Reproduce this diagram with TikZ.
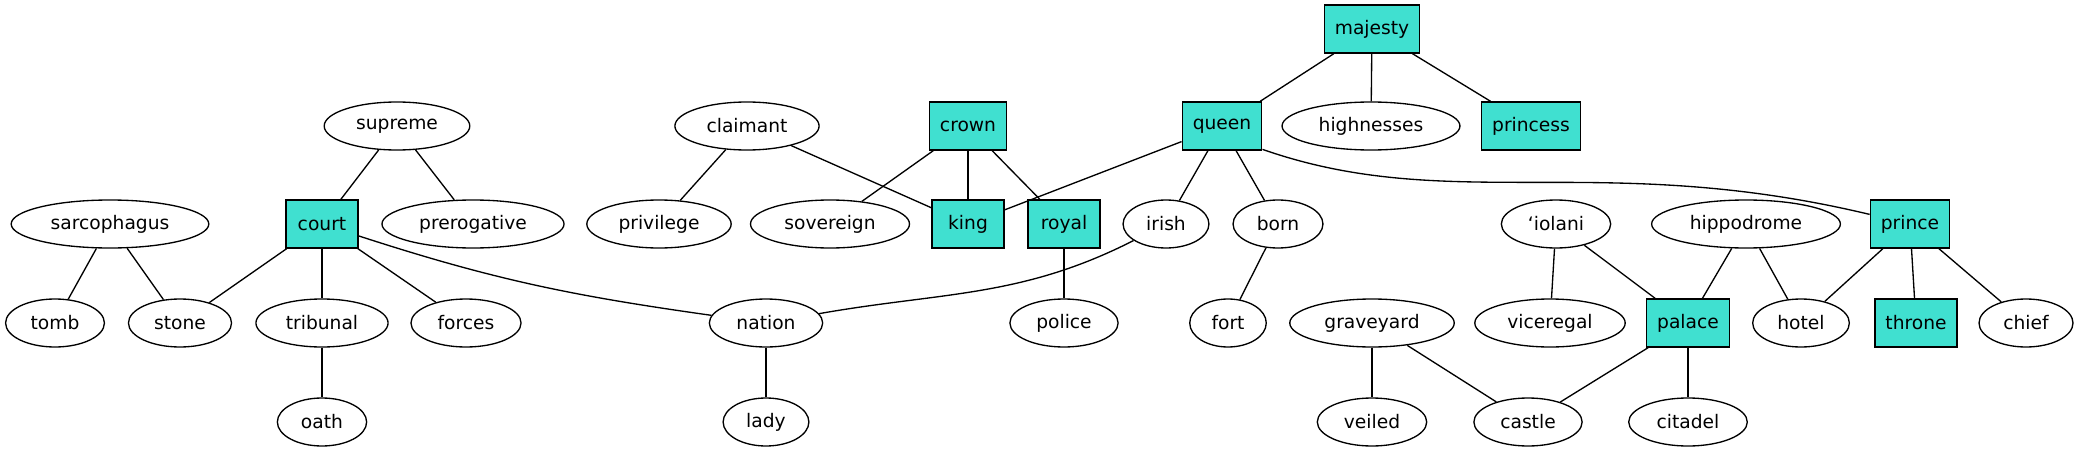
\documentclass[tikz,border=0pt]{standalone}
\usepackage{fontspec}
\setmainfont{DejaVu Sans}
\usepackage{tikz}
\usepackage{xcolor}
\usetikzlibrary{shapes}
\definecolor{turq}{HTML}{40E0D0}
\begin{document}
\begin{tikzpicture}[x = 0.75pt, y = -0.75pt, line width = 1pt, font = \fontsize{14}{16}\selectfont]
\tikzstyle{word} = [ellipse, draw, minimum width = 54pt, minimum height = 36pt, inner xsep = 7.92pt, inner ysep = 3.96pt]
\tikzstyle{hub} = [rectangle, draw, fill = turq, minimum width = 54pt, minimum height = 36pt, inner xsep = 7.92pt]
\useasboundingbox (0,0) rectangle (2077,453);
\node[hub] (majesty) at (1372,29) {majesty};
\node[word] (supreme) at (397,126) {supreme};
\node[word] (claimant) at (747,126) {claimant};
\node[hub] (crown) at (968,126) {crown};
\node[hub] (queen) at (1222,126) {queen};
\node[word] (highnesses) at (1371,126) {highnesses};
\node[hub] (princess) at (1531,126) {princess};
\node[word] (sarcophagus) at (110,224) {sarcophagus};
\node[hub] (court) at (322,224) {court};
\node[word] (prerogative) at (473,224) {prerogative};
\node[word] (privilege) at (659,224) {privilege};
\node[word] (sovereign) at (830,224) {sovereign};
\node[hub] (king) at (968,224) {king};
\node[hub] (royal) at (1064,224) {royal};
\node[word] (irish) at (1166,224) {irish};
\node[word] (born) at (1278,224) {born};
\node[word] (iolani) at (1556,224) {‘iolani};
\node[word] (hippodrome) at (1746,224) {hippodrome};
\node[hub] (prince) at (1910,224) {prince};
\node[word] (tomb) at (55,323) {tomb};
\node[word] (stone) at (180,323) {stone};
\node[word] (tribunal) at (322,323) {tribunal};
\node[word] (forces) at (466,323) {forces};
\node[word] (nation) at (766,323) {nation};
\node[word] (police) at (1064,323) {police};
\node[word] (fort) at (1228,323) {fort};
\node[word] (graveyard) at (1372,323) {graveyard};
\node[word] (viceregal) at (1550,323) {viceregal};
\node[hub] (palace) at (1688,323) {palace};
\node[word] (hotel) at (1801,323) {hotel};
\node[hub] (throne) at (1916,323) {throne};
\node[word] (chief) at (2026,323) {chief};
\node[word] (oath) at (322,422) {oath};
\node[word] (lady) at (766,422) {lady};
\node[word] (veiled) at (1372,422) {veiled};
\node[word] (castle) at (1528,422) {castle};
\node[word] (citadel) at (1688,422) {citadel};
\draw (majesty) -- (queen);
\draw (majesty) -- (highnesses);
\draw (majesty) -- (princess);
\draw (supreme) -- (court);
\draw (supreme) -- (prerogative);
\draw (sarcophagus) -- (tomb);
\draw (sarcophagus) -- (stone);
\draw (court) -- (stone);
\draw (court) -- (tribunal);
\draw (court) -- (forces);
\draw (court) to[out = -18, in = 172] (nation);
\draw (tribunal) -- (oath);
\draw (claimant) -- (privilege);
\draw (claimant) -- (king);
\draw (crown) -- (sovereign);
\draw (crown) -- (king);
\draw (crown) -- (royal);
\draw (queen) -- (king);
\draw (queen) -- (irish);
\draw (queen) -- (born);
\draw (queen.-30) .. controls (1450,215) and (1600,150) .. (prince);
\draw (royal) -- (police);
\draw (irish) to[out = 207, in = 10] (nation);
\draw (nation) -- (lady);
\draw (born) -- (fort);
\draw (iolani) -- (viceregal);
\draw (iolani) -- (palace);
\draw (hippodrome) -- (palace);
\draw (hippodrome) -- (hotel);
\draw (prince) -- (hotel);
\draw (prince) -- (throne);
\draw (prince) -- (chief);
\draw (graveyard) -- (veiled);
\draw (graveyard) -- (castle);
\draw (palace) -- (castle);
\draw (palace) -- (citadel);
\end{tikzpicture}
\end{document}
